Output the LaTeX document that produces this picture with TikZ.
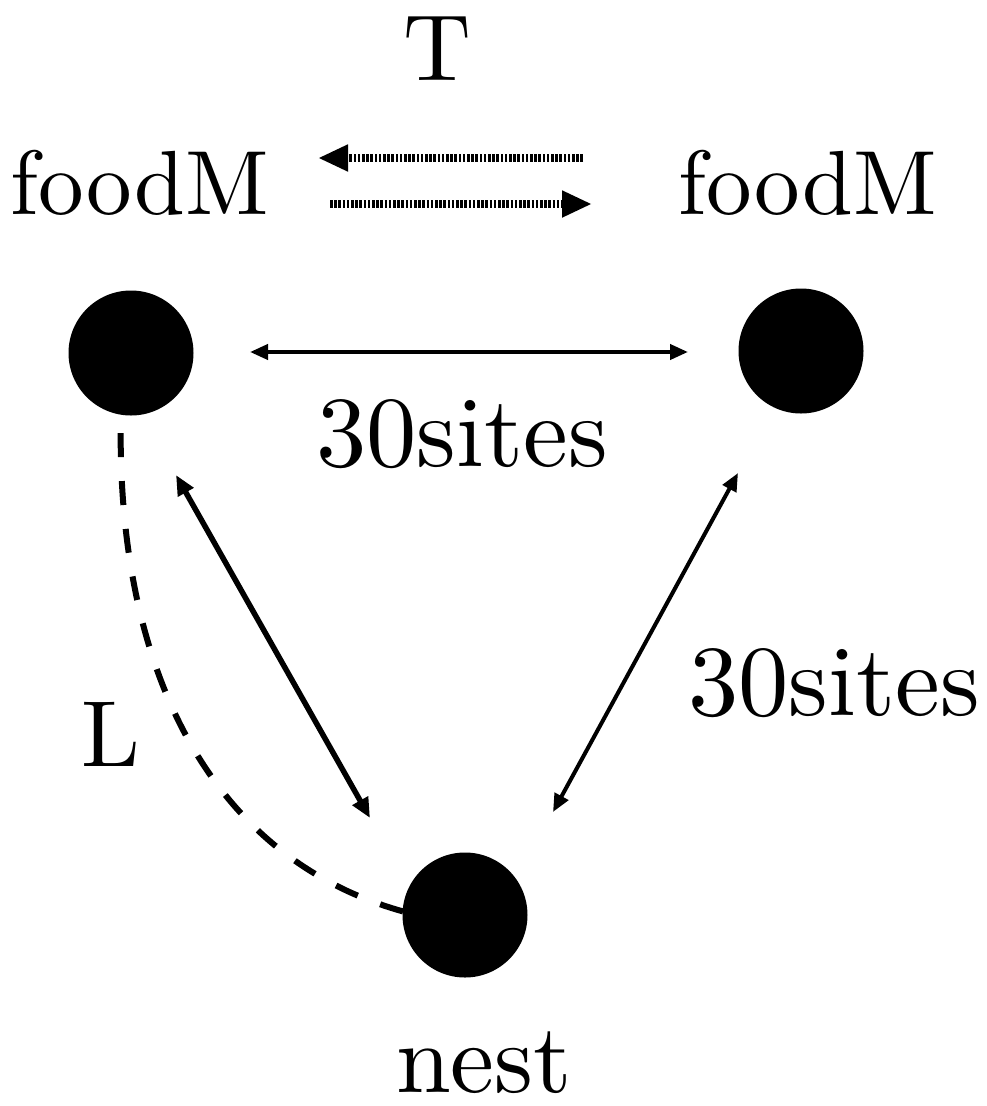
\documentclass[tikz,border=0pt]{standalone}
\usetikzlibrary{arrows.meta,calc}
\begin{document}
\begin{tikzpicture}[x=1pt,y=-1pt,
  site/.style={circle,fill=black,draw=none,minimum size=125pt,inner sep=0pt},
  lbl/.style={anchor=base,inner sep=0pt,scale=9.4},
  link/.style={line width=5.5pt,{Triangle[length=20pt,width=17pt]}-{Triangle[length=20pt,width=17pt]}},
  thinlink/.style={line width=4pt,{Triangle[length=18pt,width=15pt]}-{Triangle[length=18pt,width=15pt]}},
  flow/.style={line width=8pt,dash pattern=on 2.6pt off 1.6pt,-{Triangle[length=30pt,width=25pt]}},
  route/.style={line width=6pt,dash pattern=on 24pt off 24pt,dash phase=10pt,{Triangle[length=14pt,width=12pt]}-{Triangle[length=14pt,width=12pt]}}]
\useasboundingbox (0,0) rectangle (986,1106);

% sites
\node[site] (fl) at (131,353) {};
\node[site] (fr) at (801,351) {};
\node[site] (ns) at (465,915) {};

% labels
\node[lbl] (tT) at (437,80) {T};
\node[lbl,scale=0.97] (tfl) at (140,214) {foodM};
\node[lbl,scale=0.97] (tfr) at (808,214) {foodM};
\node[lbl,scale=1.07] (tmid) at (462,466) {30sites};
\node[lbl,scale=1.07] (tright) at (834,715) {30sites};
\node[lbl] (tL) at (111,766) {L};
\node[lbl,scale=1.05] (tnest) at (484,1092) {nest};

% connector ends
\coordinate (h1) at ($(fl)+(119,-1)$);
\coordinate (h2) at ($(fr)+(-113,1)$);
\coordinate (l1) at ($(fl)+(45,122)$);
\coordinate (l2) at ($(ns)+(-95,-97)$);
\coordinate (r1) at ($(fr)+(-63,122)$);
\coordinate (r2) at ($(ns)+(88,-103)$);
\coordinate (t1) at ($(tT.base)+(146,78)$);
\coordinate (t2) at ($(tT.base)+(-119,78)$);
\coordinate (b1) at ($(tT.base)+(-107,124)$);
\coordinate (b2) at ($(tT.base)+(155,124)$);
\coordinate (c1) at ($(fl)+(-9,29)$);
\coordinate (c2) at ($(ns)+(-13,7)$);

% links between sites
\draw[thinlink] (h1) -- (h2);
\draw[link] (l1) -- (l2);
\draw[thinlink] (r1) -- (r2);

% transfers between the food sites
\draw[flow] (t1) -- (t2);
\draw[flow] (b1) -- (b2);

% route from food site to nest
\draw[route] (c1) .. controls (110,680) and (220,880) .. (c2);
\end{tikzpicture}
\end{document}
